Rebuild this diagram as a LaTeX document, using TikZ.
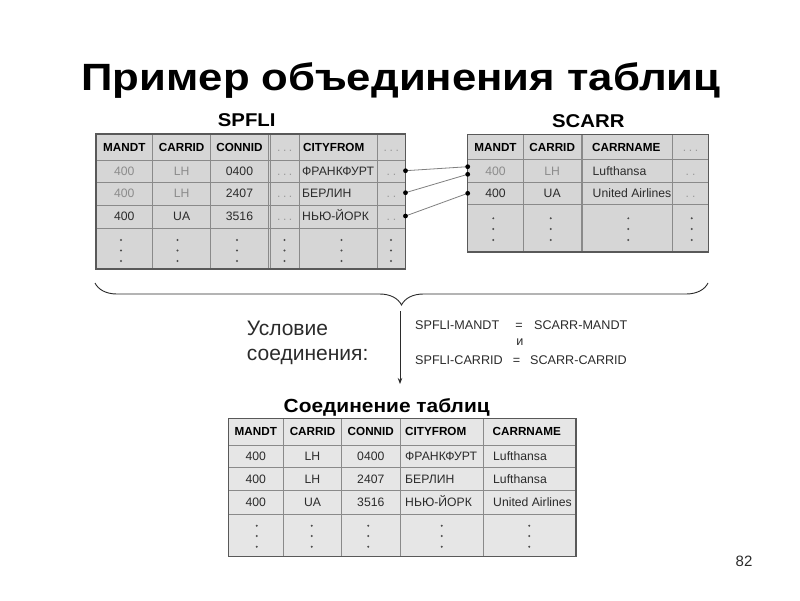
\documentclass[tikz,border=0pt]{standalone}
\usepackage{fontspec}
\setmainfont{Liberation Sans}
\newfontfamily\titlefont[FakeStretch=1.15]{Liberation Sans}
\newfontfamily\widefont[FakeStretch=1.1]{Liberation Sans}
\usepackage{xcolor}
\usetikzlibrary{positioning, arrows.meta, decorations.pathreplacing}

\definecolor{cellgray}{HTML}{D6D6D6}
\definecolor{joingray}{HTML}{E6E6E6}
\definecolor{linegray}{HTML}{8A8A8A}
\definecolor{framegray}{HTML}{595959}
\definecolor{fadetext}{HTML}{8C8C8C}
\definecolor{celltext}{HTML}{2B2B2B}
\definecolor{dotgray}{HTML}{9A9A9A}
\definecolor{vdotgray}{HTML}{4D4D4D}

\newcommand\gapdots{.\hspace{2.6pt}.\hspace{2.6pt}.}
\newcommand\gapdotstwo{.\hspace{3pt}.}

\begin{document}
\begin{tikzpicture}[x=1pt, y=-1pt,
    head/.style={font=\fontsize{11.7}{14}\selectfont\bfseries, anchor=base, inner sep=0pt},
    cell/.style={font=\fontsize{12.2}{14}\selectfont, anchor=base, inner sep=0pt, text=celltext},
    fadedcell/.style={cell, text=fadetext},
    gapcell/.style={cell, text=dotgray},
    tablename/.style={font=\widefont\fontsize{18.5}{22}\selectfont\bfseries, anchor=base, inner sep=0pt},
    cond/.style={font=\fontsize{12.6}{14}\selectfont, anchor=base west, inner sep=0pt, text=celltext},
    condlabel/.style={font=\fontsize{21}{25}\selectfont, anchor=base west, inner sep=0pt, text=celltext},
    cellline/.style={draw=linegray, line width=0.9pt},
    tableframe/.style={draw=framegray, line width=1.2pt},
    link/.style={draw=gray, line width=0.8pt},
    arr/.style={-{Stealth[length=6pt, width=4.5pt]}, line width=0.9pt, celltext},
    bracestyle/.style={draw=celltext, line width=0.9pt}
  ]
  \fill[white] (0,0) rectangle (800,600);
  \useasboundingbox (0,0) rectangle (800,600);

  % Title
  \node[font=\titlefont\fontsize{38}{44}\selectfont\bfseries, anchor=base, inner sep=0pt] (title) at (401,90) {Пример объединения таблиц};

  % SPFLI
  \node[tablename] (spfliname) at (246.7,126) {SPFLI};
  \fill[cellgray] (96,134) rectangle (405.5,269);
  \foreach \x in {152.7,210.7,268.3,270,299.3,377.3}
    \draw[cellline] (\x,134) -- (\x,269);
  \foreach \y in {160,182,205,228}
    \draw[cellline] (96,\y) -- (405.5,\y);
  \draw[tableframe] (96,134) rectangle (405.5,269);

  \foreach \x/\t [count=\i] in {124.3/MANDT, 181.7/CARRID, 239.5/CONNID}
    \node[head] (spfli-h\i) at (\x,151.2) {\t};
  \node[gapcell] (spfli-h4) at (284.7,151.2) {\gapdots};
  \node[head, anchor=base west] (spfli-h5) at (303,151.2) {CITYFROM};
  \node[gapcell] (spfli-h6) at (391.4,151.2) {\gapdots};

  \foreach \y/\car/\conn/\city/\st [count=\r] in {175.3/LH/0400/ФРАНКФУРТ/fadedcell, 197.8/LH/2407/БЕРЛИН/fadedcell, 220.8/UA/3516/НЬЮ-ЙОРК/cell} {
    \node[\st] (spfli-\r-1) at (124.3,\y) {400};
    \node[\st] (spfli-\r-2) at (181.7,\y) {\car};
    \node[cell] (spfli-\r-3) at (239.5,\y) {\conn};
    \node[gapcell] (spfli-\r-4) at (284.7,\y) {\gapdots};
    \node[cell, anchor=base west] (spfli-\r-5) at (302,\y) {\city};
    \node[gapcell] (spfli-\r-6) at (391.4,\y) {\gapdotstwo};
  }
  \foreach \x in {121,177.5,237,284.5,341.5,391}
    \foreach \y in {240,250.5,261}
      \fill[vdotgray] (\x,\y) circle (1.1);

  % SCARR
  \node[tablename] (scarrname) at (588.3,127.3) {SCARR};
  \fill[cellgray] (467.7,134.5) rectangle (708.3,252);
  \foreach \x in {523.3,581,582.7,672.7}
    \draw[cellline] (\x,134.5) -- (\x,252);
  \foreach \y in {159.5,182,204.5}
    \draw[cellline] (467.7,\y) -- (708.3,\y);
  \draw[tableframe] (467.7,134.5) rectangle (708.3,252);

  \node[head] (scarr-h1) at (495.5,151.2) {MANDT};
  \node[head] (scarr-h2) at (552.2,151.2) {CARRID};
  \node[head, anchor=base west] (scarr-h3) at (592,151.2) {CARRNAME};
  \node[gapcell] (scarr-h4) at (690.5,151.2) {\gapdots};

  \foreach \y/\car/\name/\st [count=\r] in {175/LH/Lufthansa/fadedcell, 197.5/UA/United Airlines/cell} {
    \node[\st] (scarr-\r-1) at (495.5,\y) {400};
    \node[\st] (scarr-\r-2) at (552.2,\y) {\car};
    \node[cell, anchor=base west] (scarr-\r-3) at (592.5,\y) {\name};
    \node[gapcell] (scarr-\r-4) at (690.5,\y) {\gapdotstwo};
  }
  \foreach \x in {493.3,550.7,628.3,691.7}
    \foreach \y in {218.3,229,240}
      \fill[vdotgray] (\x,\y) circle (1.1);

  % Links
  \coordinate (from1) at (405.5,170.7);
  \coordinate (from2) at (405.5,192.7);
  \coordinate (from3) at (405.5,216);
  \coordinate (to1) at (467.7,166.7);
  \coordinate (to2) at (467.7,174.3);
  \coordinate (to3) at (467.7,193.3);
  \foreach \i in {1,2,3} {
    \draw[link] (from\i) -- (to\i);
    \fill (from\i) circle (2.4);
    \fill (to\i) circle (2.4);
  }

  % Brace and condition
  \draw[bracestyle, decorate, decoration={brace, amplitude=22pt}] (708,283) -- (95,283);
  \coordinate (bracetip) at (400,311);
  \coordinate (joinin) at (400,384);
  \draw[arr] (bracetip) -- (joinin);

  \node[condlabel] (condlabel1) at (246.7,335) {Условие};
  \node[condlabel] (condlabel2) at (246.7,360) {соединения:};

  \node[cond] (condl1) at (415,329.5) {SPFLI-MANDT};
  \node[cond, anchor=base] (condeq1) at (519,329.5) {=};
  \node[cond] (condr1) at (534,329.5) {SCARR-MANDT};
  \node[cond, anchor=base] (condand) at (520,345) {и};
  \node[cond] (condl2) at (415,364.5) {SPFLI-CARRID};
  \node[cond, anchor=base] (condeq2) at (516.5,364.5) {=};
  \node[cond] (condr2) at (530,364.5) {SCARR-CARRID};

  % Join result
  \node[tablename, font=\widefont\fontsize{19}{23}\selectfont\bfseries] (joinname) at (386.7,412.5) {Соединение таблиц};
  \fill[joingray] (228.3,418.3) rectangle (576,556.7);
  \foreach \x in {283.3,341.7,400,483.3}
    \draw[cellline] (\x,418.3) -- (\x,556.7);
  \foreach \y in {445,467.7,490,514}
    \draw[cellline] (228.3,\y) -- (576,\y);
  \draw[tableframe] (228.3,418.3) rectangle (576,556.7);

  \foreach \x/\t [count=\i] in {255.8/MANDT, 312.5/CARRID, 370.8/CONNID}
    \node[head] (join-h\i) at (\x,435.9) {\t};
  \node[head, anchor=base west] (join-h4) at (405,435.9) {CITYFROM};
  \node[head, anchor=base west] (join-h5) at (492.5,435.9) {CARRNAME};

  \foreach \y/\car/\conn/\city/\name [count=\r] in {460.6/LH/0400/ФРАНКФУРТ/Lufthansa, 483.1/LH/2407/БЕРЛИН/Lufthansa, 506.3/UA/3516/НЬЮ-ЙОРК/United Airlines} {
    \node[cell] (join-\r-1) at (255.8,\y) {400};
    \node[cell] (join-\r-2) at (312.5,\y) {\car};
    \node[cell] (join-\r-3) at (370.8,\y) {\conn};
    \node[cell, anchor=base west] (join-\r-4) at (405,\y) {\city};
    \node[cell, anchor=base west] (join-\r-5) at (493,\y) {\name};
  }
  \foreach \x in {256.7,311.7,368.3,441.7,529.3}
    \foreach \y in {525.7,536,546.7}
      \fill[vdotgray] (\x,\y) circle (1.1);

  % Page number
  \node[font=\fontsize{15}{18}\selectfont, anchor=base, inner sep=0pt, text=celltext] (pagenum) at (744,566) {82};
\end{tikzpicture}
\end{document}
